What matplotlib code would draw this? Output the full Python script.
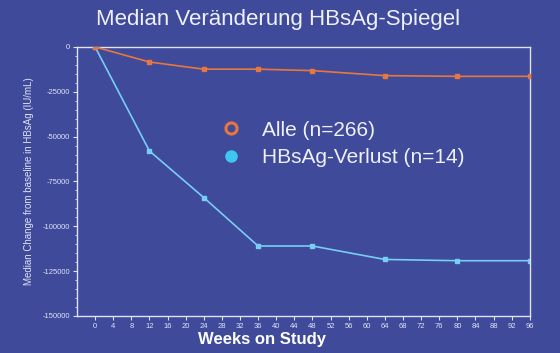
import numpy as np
from matplotlib import pyplot as plt
from matplotlib.ticker import MultipleLocator
from matplotlib.lines import Line2D

weeks = [0, 12, 24, 36, 48, 64, 80, 96]
alle = [0, -8400, -12400, -12400, -13200, -16000, -16400, -16400]
verlust = [0, -58000, -84000, -111000, -111000, -118500, -119200, -119200]
xticks = list(range(0, 97, 4))
yticks = [0, -25000, -50000, -75000, -100000, -125000, -150000]

bg = '#3f4a9b'
fg = '#dfe3f5'
orange = '#e8773d'
blue = '#78cdf5'

plt.rcParams['font.family'] = ['Liberation Sans', 'DejaVu Sans']
plt.rcParams['axes.unicode_minus'] = False
fig = plt.figure(figsize=[5.6, 3.53], dpi=100, facecolor=bg)
ax = fig.add_axes([0.1375, 0.105, 0.8085, 0.762], facecolor=bg)

ax.plot(weeks, alle, color=orange, lw=1.2, marker='s', ms=3.5,
        mfc=orange, mec=orange, zorder=3)
ax.plot(weeks, verlust, color=blue, lw=1.2, marker='s', ms=3.5,
        mfc=blue, mec=blue, zorder=2)

ax.set_xlim(-4, 96)
ax.set_ylim(-150000, 0)
ax.set_xticks(xticks)
ax.set_yticks(yticks)
ax.yaxis.set_minor_locator(MultipleLocator(5000))
ax.tick_params(axis='both', colors=fg, labelsize=5.5, length=3, width=0.8, pad=2)
ax.tick_params(axis='y', which='minor', colors=fg, length=1.5, width=0.6)
for s in ax.spines.values():
    s.set_color(fg)
    s.set_linewidth(1.0)

ax.set_ylabel('Median Change from baseline in HBsAg (IU/mL)', color=fg, fontsize=7, labelpad=6)
fig.text(0.468, 0.037, 'Weeks on Study', color='white', fontsize=12,
         fontweight='bold', ha='center', va='center')
fig.text(0.497, 0.945, 'Median Veränderung HBsAg-Spiegel', color='#eef0fa',
         fontsize=16, ha='center', va='center')

handles = [
    Line2D([], [], ls='none', marker='o', ms=8, mfc='none', mec=orange, mew=2.2),
    Line2D([], [], ls='none', marker='o', ms=8, mfc='#3ec7f0', mec='#3ec7f0'),
]
leg = fig.legend(handles, ['Alle (n=266)', 'HBsAg-Verlust (n=14)'],
                 loc='center left', bbox_to_anchor=(0.361, 0.592),
                 frameon=False, fontsize=15, labelcolor='#eef0fa',
                 handletextpad=0.98, labelspacing=0.42, handlelength=1.0)

plt.savefig('out.png', dpi=100, facecolor=bg)
plt.close()
